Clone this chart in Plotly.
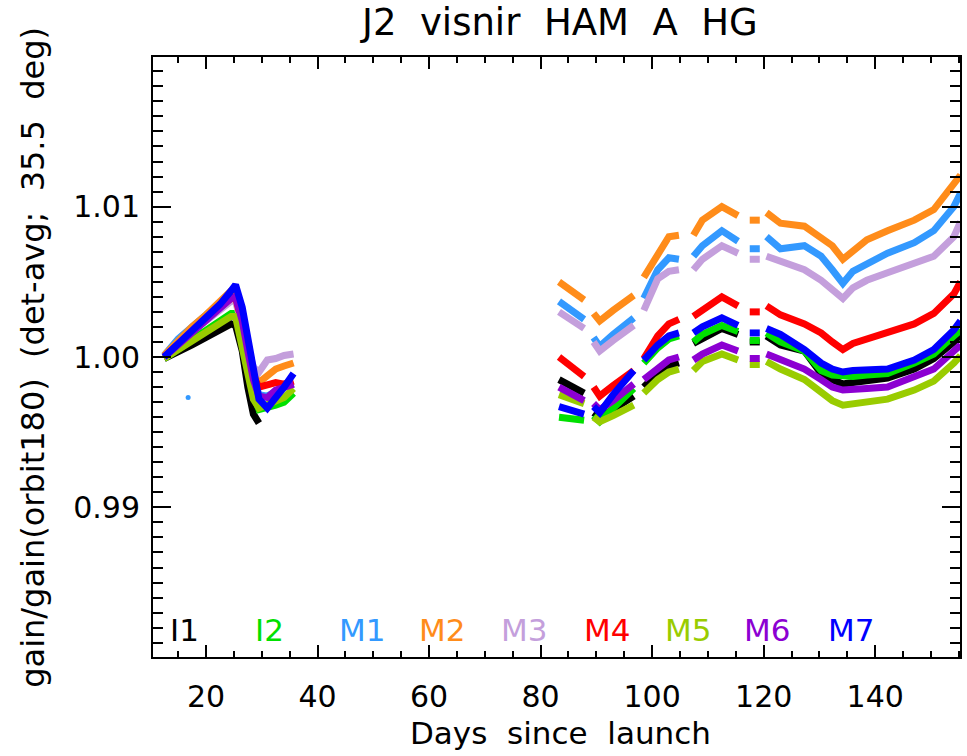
import plotly.graph_objects as go

# Band names and plotting colours
BANDS = ["I1", "I2", "M1", "M2", "M3", "M4", "M5", "M6", "M7"]
COLORS = ["#000000", "#00e000", "#3399ff", "#ff8c1a", "#c49fdc",
          "#ff0000", "#99cc00", "#8c00d2", "#0000ff"]

# Days since launch: early checkout period
EARLY_DAYS = [12.5, 15, 17.5, 20, 22.5, 24.5, 25.3, 26.5, 27.5, 28.5, 29.5,
              31, 32.5, 34, 35.7]
# Later period; None marks a break between passes with no data
LATE_DAYS = [83.3, 85.5, 87.8, None,
             89.5, 90.6, 93, 95, 96.7, None,
             98.5, 101, 103, 104.8, None,
             107.4, 109, 112.5, 115.4, None,
             117.5, 119.3, None,
             120.5, 123, 127.3, 130.3, 132.3, 134.2, 136, 138.5, 142.2, 147,
             150.5, 154.1, 155.3]

# Gain ratios, gain/gain(orbit180), per band
I1_EARLY = [0.9999, 1.0003, 1.0008, 1.0013, 1.0018, 1.0022, 1.0021, 1.0004,
            0.9980, 0.9962, 0.9956, None, None, None, None]
I1_LATE = [0.9985, 0.9980, 0.9976, None,
           0.9963, 0.9960, 0.9965, 0.9970, 0.9974, None,
           0.9980, 0.9989, 0.9994, 0.9996, None,
           1.0009, 1.0012, 1.0019, 1.0015, None,
           1.0010, 1.0010, None,
           1.0014, 1.0008, 1.0004, 0.9989, 0.9985, 0.9982, 0.9983, 0.9984,
           0.9986, 0.9992, 0.9999, 1.0010, 1.0015]

I2_EARLY = [0.9999, 1.0005, 1.0012, 1.0018, 1.0024, 1.0029, 1.0029, 1.0012,
            0.9992, 0.9975, 0.9965, 0.9966, 0.9968, 0.9970, 0.9976]
I2_LATE = [0.9960, 0.9959, 0.9958, None,
           0.9961, 0.9957, 0.9966, 0.9973, 0.9979, None,
           0.9996, 1.0006, 1.0012, 1.0014, None,
           1.0010, 1.0015, 1.0021, 1.0017, None,
           1.0011, 1.0011, None,
           1.0016, 1.0010, 1.0004, 0.9991, 0.9988, 0.9987, 0.9987, 0.9988,
           0.9989, 0.9996, 1.0002, 1.0014, 1.0018]

M1_EARLY = [1.0001, 1.0012, 1.0020, 1.0028, 1.0036, 1.0042, 1.0042, 1.0022,
            1.0002, 0.9985, 0.9975, 0.9974, 0.9977, 0.9980, 0.9982]
M1_LATE = [1.0037, 1.0031, 1.0025, None,
           1.0013, 1.0007, 1.0015, 1.0021, 1.0026, None,
           1.0039, 1.0058, 1.0066, 1.0065, None,
           1.0067, 1.0074, 1.0084, 1.0077, None,
           1.0072, 1.0072, None,
           1.0080, 1.0072, 1.0074, 1.0067, 1.0058, 1.0049, 1.0057, 1.0062,
           1.0069, 1.0076, 1.0084, 1.0100, 1.0109]
# Isolated M1 sample
M1_OUTLIER_DAY = [16.8]
M1_OUTLIER = [0.9973]

M2_EARLY = [1.0001, 1.0011, 1.0020, 1.0028, 1.0037, 1.0044, 1.0045, 1.0025,
            1.0004, 0.9988, 0.9983, 0.9988, 0.9992, 0.9994, 0.9996]
M2_LATE = [1.0050, 1.0044, 1.0038, None,
           1.0029, 1.0024, 1.0031, 1.0036, 1.0041, None,
           1.0053, 1.0068, 1.0080, 1.0081, None,
           1.0081, 1.0091, 1.0100, 1.0094, None,
           1.0091, 1.0091, None,
           1.0096, 1.0089, 1.0087, 1.0080, 1.0074, 1.0065, 1.0070, 1.0078,
           1.0084, 1.0091, 1.0098, 1.0114, 1.0121]

M3_EARLY = [1.0000, 1.0009, 1.0017, 1.0024, 1.0031, 1.0037, 1.0037, 1.0020,
            1.0003, 0.9993, 0.9990, 0.9998, 0.9999, 1.0001, 1.0002]
M3_LATE = [1.0030, 1.0025, 1.0019, None,
           1.0010, 1.0004, 1.0011, 1.0016, 1.0021, None,
           1.0031, 1.0052, 1.0057, 1.0058, None,
           1.0058, 1.0065, 1.0074, 1.0069, None,
           1.0065, 1.0065, None,
           1.0067, 1.0064, 1.0058, 1.0051, 1.0045, 1.0039, 1.0046, 1.0051,
           1.0056, 1.0062, 1.0067, 1.0080, 1.0090]

M4_EARLY = [1.0000, 1.0009, 1.0017, 1.0025, 1.0033, 1.0039, 1.0040, 1.0022,
            1.0002, 0.9987, 0.9980, 0.9982, 0.9983, 0.9982, 0.9984]
M4_LATE = [1.0000, 0.9993, 0.9987, None,
           0.9980, 0.9974, 0.9981, 0.9986, 0.9991, None,
           0.9999, 1.0014, 1.0022, 1.0025, None,
           1.0027, 1.0031, 1.0040, 1.0034, None,
           1.0030, 1.0030, None,
           1.0034, 1.0028, 1.0022, 1.0016, 1.0010, 1.0005, 1.0009, 1.0012,
           1.0016, 1.0022, 1.0029, 1.0042, 1.0050]

M5_EARLY = [0.9999, 1.0005, 1.0011, 1.0017, 1.0023, 1.0027, 1.0027, 1.0008,
            0.9988, 0.9972, 0.9966, 0.9968, 0.9970, 0.9973, 0.9979]
M5_LATE = [0.9975, 0.9972, 0.9969, None,
           0.9960, 0.9957, 0.9961, 0.9965, 0.9968, None,
           0.9976, 0.9985, 0.9990, 0.9992, None,
           0.9991, 0.9997, 1.0002, 0.9998, None,
           0.9995, 0.9995, None,
           0.9997, 0.9992, 0.9985, 0.9976, 0.9971, 0.9968, 0.9969, 0.9971,
           0.9972, 0.9978, 0.9984, 0.9996, 1.0001]

M6_EARLY = [1.0000, 1.0008, 1.0016, 1.0024, 1.0032, 1.0039, 1.0040, 1.0024,
            1.0004, 0.9985, 0.9974, 0.9973, 0.9978, 0.9980, 0.9982]
M6_LATE = [0.9980, 0.9976, 0.9971, None,
           0.9969, 0.9965, 0.9971, 0.9977, 0.9982, None,
           0.9985, 0.9993, 0.9998, 1.0000, None,
           0.9998, 1.0002, 1.0008, 1.0004, None,
           0.9999, 0.9999, None,
           1.0002, 0.9998, 0.9992, 0.9985, 0.9980, 0.9978, 0.9978, 0.9979,
           0.9980, 0.9987, 0.9992, 1.0004, 1.0008]

M7_EARLY = [1.0000, 1.0009, 1.0018, 1.0026, 1.0035, 1.0044, 1.0048, 1.0033,
            1.0012, 0.9990, 0.9972, 0.9966, 0.9974, 0.9980, 0.9989]
M7_LATE = [0.9967, 0.9965, 0.9962, None,
           0.9967, 0.9963, 0.9975, 0.9984, 0.9991, None,
           0.9998, 1.0008, 1.0014, 1.0016, None,
           1.0016, 1.0020, 1.0026, 1.0021, None,
           1.0016, 1.0016, None,
           1.0019, 1.0015, 1.0005, 0.9996, 0.9992, 0.9990, 0.9991, 0.9991,
           0.9992, 0.9998, 1.0005, 1.0018, 1.0024]

SERIES = [
    (I1_EARLY, I1_LATE), (I2_EARLY, I2_LATE), (M1_EARLY, M1_LATE),
    (M2_EARLY, M2_LATE), (M3_EARLY, M3_LATE), (M4_EARLY, M4_LATE),
    (M5_EARLY, M5_LATE), (M6_EARLY, M6_LATE), (M7_EARLY, M7_LATE),
]

FONT = "DejaVu Sans"

fig = go.Figure()
for name, color, (early, late) in zip(BANDS, COLORS, SERIES):
    fig.add_trace(go.Scatter(
        x=EARLY_DAYS + [None] + LATE_DAYS,
        y=early + [None] + late,
        mode="lines",
        line=dict(color=color, width=7),
        connectgaps=False,
        name=name,
        showlegend=False,
    ))
    if name == "M1":
        fig.add_trace(go.Scatter(
            x=M1_OUTLIER_DAY, y=M1_OUTLIER, mode="markers",
            marker=dict(color=color, size=5), showlegend=False,
        ))

# Band labels written along the bottom of the plot, in band colours
label_x = [0.018, 0.124, 0.228, 0.327, 0.429, 0.532, 0.632, 0.730, 0.834]
for name, color, lx in zip(BANDS, COLORS, label_x):
    fig.add_annotation(
        text=name, x=lx, y=0.045, xref="paper", yref="paper",
        xanchor="left", yanchor="middle", showarrow=False,
        font=dict(family=FONT, size=31, color=color),
    )

# Axis titles
fig.add_annotation(
    text="Days  since  launch", x=0.505, y=-0.127, xref="paper", yref="paper",
    xanchor="center", yanchor="middle", showarrow=False,
    font=dict(family=FONT, size=31, color="black"),
)
fig.add_annotation(
    text="gain/gain(orbit180)  (det-avg;  35.5  deg)", x=-0.149, y=0.5,
    xref="paper", yref="paper", xanchor="center", yanchor="middle",
    textangle=-90, showarrow=False,
    font=dict(family=FONT, size=32, color="black"),
)

axis_common = dict(
    showline=True, linecolor="black", linewidth=2, mirror="ticks",
    ticks="inside", tickcolor="black", tickwidth=2,
    showgrid=False, zeroline=False,
    tickfont=dict(family=FONT, size=30, color="black"),
)

fig.update_xaxes(
    range=[10.5, 155.2], tick0=0, dtick=20, ticklen=12,
    minor=dict(ticks="inside", dtick=5, ticklen=6, tickwidth=2,
               tickcolor="black", showgrid=False),
    ticklabelstandoff=12,
    **axis_common,
)
fig.update_yaxes(
    range=[0.98005, 1.01995], tick0=0.99, dtick=0.01, tickformat=".2f",
    ticklen=18,
    minor=dict(ticks="inside", dtick=0.001, ticklen=10, tickwidth=2,
               tickcolor="black", showgrid=False),
    ticklabelstandoff=5,
    **axis_common,
)

fig.update_layout(
    width=967, height=756,
    margin=dict(l=153, r=5, t=57, b=99),
    paper_bgcolor="white", plot_bgcolor="white",
    title=dict(
        text="J2  visnir  HAM  A  HG", x=0.579, xanchor="center",
        y=1 - 22 / 756, yanchor="middle", yref="container",
        font=dict(family=FONT, size=37, color="black"),
    ),
    font=dict(family=FONT, color="black"),
)

fig.write_html("out.html")
